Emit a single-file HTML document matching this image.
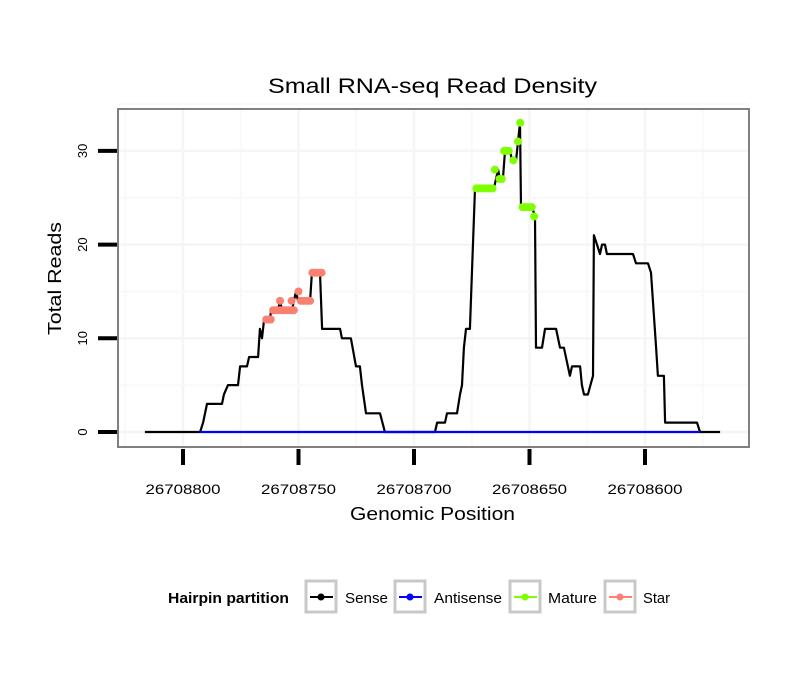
<!DOCTYPE html>
<html><head><meta charset="utf-8"><style>
body{margin:0;background:#fff;font-family:"Liberation Sans",sans-serif;}
svg text{font-family:"Liberation Sans",sans-serif;}
</style></head><body>
<svg id="chart" width="810" height="690" xmlns="http://www.w3.org/2000/svg">
<rect width="810" height="690" fill="#fff"/>
<text x="268" y="93" font-size="21" textLength="329" lengthAdjust="spacingAndGlyphs">Small RNA-seq Read Density</text>
<g id="grid"></g>
<g id="series"></g>
<rect x="118" y="109" width="631" height="338" fill="none" stroke="#808080" stroke-width="2"/>
<g id="axes"></g>
<text x="350" y="520" font-size="18" textLength="165" lengthAdjust="spacingAndGlyphs">Genomic Position</text>
<text transform="translate(61,335) rotate(-90)" font-size="18" textLength="113" lengthAdjust="spacingAndGlyphs">Total Reads</text>
<g>
<text x="168" y="603" font-size="15" font-weight="bold" textLength="121" lengthAdjust="spacingAndGlyphs">Hairpin partition</text>
<g><rect x="306" y="581" width="30" height="31" fill="#fff" stroke="#c8c8c8" stroke-width="3"/><line x1="310" y1="597" x2="333" y2="597" stroke="#000" stroke-width="2"/><circle cx="321" cy="597" r="3.5" fill="#000"/><text x="345" y="603" font-size="15" textLength="43" lengthAdjust="spacingAndGlyphs">Sense</text></g>
<g><rect x="395" y="581" width="30" height="31" fill="#fff" stroke="#c8c8c8" stroke-width="3"/><line x1="399" y1="597" x2="422" y2="597" stroke="#0000ff" stroke-width="2"/><circle cx="410" cy="597" r="3.5" fill="#0000ff"/><text x="434" y="603" font-size="15" textLength="68" lengthAdjust="spacingAndGlyphs">Antisense</text></g>
<g><rect x="510" y="581" width="30" height="31" fill="#fff" stroke="#c8c8c8" stroke-width="3"/><line x1="514" y1="597" x2="537" y2="597" stroke="#7fff00" stroke-width="2"/><circle cx="525" cy="597" r="3.5" fill="#7fff00"/><text x="548" y="603" font-size="15" textLength="49" lengthAdjust="spacingAndGlyphs">Mature</text></g>
<g><rect x="605" y="581" width="30" height="31" fill="#fff" stroke="#c8c8c8" stroke-width="3"/><line x1="609" y1="597" x2="632" y2="597" stroke="#fa8072" stroke-width="2"/><circle cx="620" cy="597" r="3.5" fill="#fa8072"/><text x="643" y="603" font-size="15" textLength="27" lengthAdjust="spacingAndGlyphs">Star</text></g>
</g>
</svg>
<script>
const xTicks=[26708800,26708750,26708700,26708650,26708600];
const yTicks=[0,10,20,30];
const sensePos=[26708816.5,26708792.6,26708791.3,26708789.6,26708783.1,26708782.3,26708780.5,26708776.2,26708775.3,26708772.3,26708771.4,26708767.5,26708766.7,26708765.8,26708764.9,26708762.3,26708761.9,26708758.9,26708758.0,26708757.1,26708752.8,26708752.0,26708751.1,26708750.2,26708745.0,26708744.2,26708740.7,26708739.8,26708732.0,26708731.2,26708727.3,26708725.1,26708723.4,26708722.5,26708720.8,26708714.7,26708712.6,26708690.9,26708690.0,26708686.6,26708685.7,26708681.4,26708680.1,26708679.2,26708678.4,26708677.5,26708675.8,26708673.6,26708665.4,26708663.6,26708662.8,26708661.5,26708660.6,26708658.4,26708657.6,26708655.8,26708655.0,26708654.1,26708653.7,26708648.9,26708647.6,26708647.2,26708644.6,26708643.3,26708638.5,26708636.8,26708635.1,26708632.5,26708631.6,26708628.1,26708627.3,26708626.4,26708624.7,26708622.5,26708622.1,26708620.8,26708619.5,26708618.6,26708617.3,26708616.5,26708605.2,26708603.9,26708598.7,26708597.4,26708595.2,26708594.4,26708591.8,26708591.3,26708577.5,26708576.2,26708567.5];
const senseVals=[0,0,1,3,3,4,5,5,7,7,8,8,11,10,12,12,13,13,14,13,13,14,15,14,14,17,17,11,11,10,10,7,7,5,2,2,0,0,1,1,2,2,4,5,9,11,11,26,26,28,27,27,30,30,29,29,31,33,24,24,23,9,9,11,11,9,9,6,7,7,5,4,4,6,21,20,19,20,20,19,19,18,18,17,9,6,6,1,1,0,0];
const antiPos=[26708792.6,26708576.2];
const antiVals=[0,0];
const starPos=[26708764,26708763,26708762,26708761,26708760,26708759,26708758,26708757,26708756,26708755,26708754,26708753,26708752,26708758,26708753,26708750,26708749,26708748,26708747,26708746,26708745,26708744,26708743,26708742,26708741,26708740];
const starVals=[12,12,12,13,13,13,13,13,13,13,13,13,13,14,14,15,14,14,14,14,14,17,17,17,17,17];
const matPos=[26708673,26708672,26708671,26708670,26708669,26708668,26708667,26708666,26708665,26708663,26708662,26708661,26708660,26708659,26708657,26708655,26708654,26708653,26708652,26708651,26708650,26708649,26708648];
const matVals=[26,26,26,26,26,26,26,26,28,27,27,30,30,30,29,31,33,24,24,24,24,24,23];

const NS='http://www.w3.org/2000/svg';
const X=p=>183+(26708800-p)*2.31;
const Y=v=>432-v*9.37;
function mk(tag,attrs,parent){const e=document.createElementNS(NS,tag);for(const k in attrs)e.setAttribute(k,attrs[k]);parent.appendChild(e);return e;}
const grid=document.getElementById('grid'),axes=document.getElementById('axes'),ser=document.getElementById('series');
const minorX=[26708825,26708775,26708725,26708675,26708625,26708575];
for(const p of xTicks){const g=mk('line',{x1:X(p),x2:X(p),y1:109,y2:447,stroke:'#f5f5f5','stroke-width':2.5},grid);

}
for(const p of minorX){const m=mk('line',{x1:X(p),x2:X(p),y1:109,y2:447,stroke:'#f9f9f9','stroke-width':2},grid);

}
for(const v of yTicks){const g=mk('line',{x1:118,x2:749,y1:Y(v),y2:Y(v),stroke:'#f5f5f5','stroke-width':2.5},grid);


const m=mk('line',{x1:118,x2:749,y1:Y(v+5),y2:Y(v+5),stroke:'#f9f9f9','stroke-width':2},grid);

}
for(const p of xTicks){const t=mk('line',{x1:X(p),x2:X(p),y1:449,y2:465,stroke:'#000','stroke-width':4},axes);


const l=mk('text',{x:X(p),y:494,'font-size':14,'text-anchor':'middle',textLength:75,lengthAdjust:'spacingAndGlyphs'},axes);l.textContent=p;

}
for(const v of yTicks){const t=mk('line',{x1:98,x2:117,y1:Y(v),y2:Y(v),stroke:'#000','stroke-width':4},axes);


const l=mk('text',{transform:`translate(${87},${Y(v)}) rotate(-90)`,'font-size':13,'text-anchor':'middle'},axes);l.textContent=v;

}
function line(pos,vals,color,name){const pts=pos.map((p,i)=>X(p).toFixed(1)+','+Y(vals[i]).toFixed(1)).join(' ');
const e=mk('polyline',{points:pts,fill:'none',stroke:color,'stroke-width':2.2,'stroke-linejoin':'round'},ser);

}
line(sensePos,senseVals,'#000','sense-line');
line(antiPos,antiVals,'#0000ff','antisense-line');
function dots(pos,vals,color,name){for(let i=0;i<pos.length;i++){const c=mk('circle',{cx:X(pos[i]),cy:Y(vals[i]),r:4,fill:color},ser);

}}
dots(starPos,starVals,'#fa8072','star-point');
dots(matPos,matVals,'#7fff00','mature-point');
</script>
</body></html>
